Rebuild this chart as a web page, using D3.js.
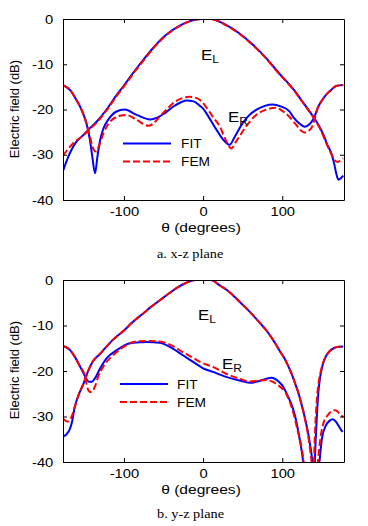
<!DOCTYPE html>
<html>
<head>
<meta charset="utf-8">
<script src="https://cdn.jsdelivr.net/npm/d3@7"></script>
<style>
  html, body { margin: 0; padding: 0; background: #fff; }
  svg { display: block; }
</style>
</head>
<body>
<div id="chart"></div>
<script>
// Angle (degrees) vs electric field (dB)

// a. x-z plane
const topFitEL = [[-177,-33.6],[-172,-31.2],[-168,-29.5],[-160,-27.1],[-151,-25.6],[-145,-24.5],[-134,-22.6],[-122,-20],[-110,-17],[-100,-14.7],[-90,-12.3],[-80,-10],[-70,-7.8],[-60,-5.8],[-50,-4],[-40,-2.6],[-30,-1.5],[-20,-0.7],[-10,-0.15],[0,0],[10,0],[18,-0.4],[29,-1.3],[46,-3.2],[63,-5.7],[80,-8.7],[96,-12],[106,-13.9],[115,-15.7],[124,-17.9],[132,-19.8],[140,-21.8],[147,-23.8],[153,-26],[157,-27.8],[162,-29.7],[166,-32.3],[168,-34],[171,-35.5],[174,-35.2],[177,-34.6]];
const topFemEL = [[-177,-30.2],[-170,-28.6],[-162,-27.1],[-151,-25.7],[-145,-24.6],[-134,-22.8],[-122,-20.2],[-110,-17.2],[-100,-14.9],[-90,-12.5],[-80,-10.2],[-70,-8],[-60,-5.9],[-50,-4.1],[-40,-2.7],[-30,-1.6],[-20,-0.7],[-10,-0.15],[0,0],[10,0],[18,-0.4],[29,-1.4],[46,-3.3],[63,-5.8],[80,-8.8],[96,-12.1],[106,-14],[115,-15.8],[124,-18],[132,-19.9],[140,-21.9],[147,-24],[153,-26.3],[157,-28],[162,-29.8],[166,-31.2],[170,-31.6],[174,-31.2],[177,-30.8]];
const topFitER = [[-177,-14.6],[-168,-15.7],[-160,-17.9],[-153,-20.3],[-147,-23.3],[-143,-26.7],[-140,-30.4],[-136.5,-34.1],[-133.5,-30.4],[-130,-26.7],[-126,-24.2],[-120,-22.3],[-110,-20.5],[-99,-20],[-84,-21.2],[-67,-22.2],[-58,-21.8],[-50,-21],[-38,-19.4],[-28,-18.4],[-21,-18],[-12,-18.2],[-4,-19.2],[0,-19.8],[4,-20.8],[10,-22.5],[17,-24.5],[25,-26.6],[33.5,-27.8],[40,-26],[50,-23],[58,-21.3],[67,-20.1],[78,-19.2],[88,-18.9],[98,-19.3],[109,-20.4],[115,-21.9],[121.7,-23.1],[128,-23.8],[134,-23.3],[138.5,-22.3],[142,-21],[144.7,-19.7],[149,-18.3],[155,-16.8],[161.7,-15.7],[168,-14.8],[177,-14.6]];
const topFemER = [[-177,-14.6],[-168,-15.7],[-160,-17.9],[-153,-20.3],[-147,-23.3],[-143,-26],[-139,-28.6],[-135.5,-29.3],[-131,-27.8],[-126,-25.3],[-118,-22.8],[-105,-21.4],[-97,-21.2],[-84,-22.3],[-69,-23.6],[-60,-22.6],[-55,-21.6],[-45,-19.8],[-38,-18.6],[-28,-17.6],[-17,-17.2],[-8,-17.5],[-2,-18.2],[4,-19.5],[8,-20.5],[14,-22],[21,-23.7],[28,-26.5],[35.6,-28.6],[42,-27],[54,-23.8],[67,-21.2],[80,-20],[92,-19.6],[100,-20.3],[109,-21.6],[117.6,-23.4],[124,-24.7],[128,-25.1],[133.5,-24.7],[138.5,-23.5],[142,-21.4],[144.7,-19.7],[149,-18.3],[155,-16.8],[161.7,-15.7],[168,-14.8],[177,-14.6]];

// b. y-z plane
const botFitEL = [[-177,-34.4],[-172,-33.8],[-169,-33],[-166,-31.5],[-162,-27.8],[-158,-25.6],[-151,-22.7],[-145,-19.9],[-139,-17.8],[-130,-16.2],[-126,-15.4],[-113,-13],[-100,-11.1],[-90,-9.4],[-76,-7.4],[-65,-5.8],[-55,-4.5],[-45,-3.2],[-38,-2.3],[-30,-1.4],[-21,-0.6],[-10,0],[10,0],[21,-1.2],[30,-2.2],[38,-3.4],[48,-5.1],[59,-7],[70,-9.1],[80,-11.1],[90,-13.6],[96.5,-15.5],[102,-17],[107,-18.7],[112,-20.7],[116,-22.6],[120,-24.6],[124,-27.1],[128,-29.9],[132,-33],[135,-36],[138,-40],[140,-45],[142,-36],[144,-29],[146,-24],[148,-21.2],[151,-18.7],[155,-16.8],[160,-15.6],[165,-15],[170,-14.7],[177,-14.6]];
const botFemEL = [[-177,-30.4],[-172,-31.1],[-169,-30.9],[-166,-30],[-162,-27.8],[-158,-25.6],[-151,-22.7],[-145,-19.9],[-139,-17.8],[-130,-16.2],[-126,-15.4],[-113,-13],[-100,-11.1],[-90,-9.4],[-76,-7.4],[-65,-5.8],[-55,-4.5],[-45,-3.2],[-38,-2.3],[-30,-1.4],[-21,-0.6],[-10,0],[10,0],[21,-1.2],[30,-2.2],[38,-3.4],[48,-5.1],[59,-7],[70,-9.1],[80,-11.1],[90,-13.6],[96.5,-15.5],[102,-17],[107,-18.7],[112,-20.7],[116,-22.6],[120,-24.6],[124,-27.1],[128,-29.9],[132,-33.5],[135,-37],[137,-40],[139,-45],[141,-35],[143,-28],[146,-22.5],[148,-20.6],[151,-18.5],[155,-16.8],[160,-15.6],[165,-15],[170,-14.7],[177,-14.6]];
const botFitER = [[-177,-14.5],[-168,-15.4],[-162,-16.9],[-155.5,-19],[-149,-21.2],[-145,-22.3],[-141,-22.4],[-136.6,-21.6],[-130,-19.4],[-122,-17.2],[-109,-15.4],[-92.5,-13.9],[-80,-13.7],[-71.5,-13.6],[-55,-13.8],[-42,-14.7],[-25,-16.6],[-12.7,-18],[0,-19.4],[12.5,-20.2],[29,-21.3],[46,-22.1],[58.7,-22.6],[71,-22.2],[80,-21.7],[86,-21.5],[96,-22.4],[101,-23.4],[107,-25.5],[113,-28],[117,-30.5],[121,-34],[124,-37],[127,-41],[130,-48],[143,-48],[147,-40],[150,-35],[155,-32],[160,-30.9],[164,-30.6],[168,-31.2],[172,-32.3],[176,-33.4]];
const botFemER = [[-177,-14.5],[-168,-15.4],[-162,-16.9],[-155.5,-19],[-149,-21.2],[-147,-23.1],[-143.8,-24.5],[-141,-24.6],[-136.6,-23.4],[-132.5,-21.2],[-126,-19],[-113.5,-16.5],[-96.7,-14.3],[-88,-13.6],[-71.5,-13.4],[-55,-13.5],[-42,-14.2],[-25,-15.9],[-12.7,-17.1],[-4,-18],[0,-18.3],[12.5,-19.1],[29,-20.6],[46,-21.7],[58.7,-22.3],[71,-22.1],[80,-22],[88,-22.4],[96,-23.3],[105,-25],[113,-28.6],[119.6,-33.2],[124,-36.6],[127,-40],[130,-48],[141,-48],[145,-40],[148,-35],[152,-31.5],[158,-29.6],[164,-28.7],[167,-28.6],[172,-29.3],[177,-30.2]];

const xTicks = [-100, 0, 100];
const yTicks = [0, -10, -20, -30, -40];
const seriesNames = ["FIT", "FEM"];

const width = 368, height = 526;
const left = 63, right = 344;
const sans = "'Liberation Sans', Arial, sans-serif";
const serif = "'Liberation Serif', 'Times New Roman', serif";

const svg = d3.select("#chart").append("svg")
    .attr("width", width)
    .attr("height", height);
const defs = svg.append("defs");

// the figure is a bit wider than tall, so horizontal text gets stretched
const stretch = (sel, k) => sel.each(function() {
    const t = d3.select(this);
    const tx = +t.attr("x") || 0, ty = +t.attr("y") || 0;
    t.attr("x", 0).attr("y", 0).attr("transform", `translate(${tx},${ty}) scale(${k},1)`);
});

const panels = [
    { key: "a", top: 19, bottom: 200, fit: [topFitEL, topFitER], fem: [topFemEL, topFemER],
      caption: "a. x-z plane", capX: 157, capY: 258, yLabelY: 109,
      eL: [201, 60], eR: [228, 122], leg: [123, 143.5, 181] },
    { key: "b", top: 280, bottom: 462, fit: [botFitEL, botFitER], fem: [botFemEL, botFemER],
      caption: "b. y-z plane", capX: 157, capY: 518, yLabelY: 370,
      eL: [198, 320], eR: [222, 369], leg: [120, 384, 177] }
];

const drawPanel = (p) => {
    const x = d3.scaleLinear().domain([-177, 178]).range([left, right]);
    const y = d3.scaleLinear().domain([-40, 0]).range([p.bottom, p.top]);
    const g = svg.append("g").attr("class", "panel-" + p.key);

    defs.append("clipPath").attr("id", "clip-" + p.key)
        .append("rect")
        .attr("x", left).attr("y", p.top)
        .attr("width", right - left).attr("height", p.bottom - p.top);

    const line = d3.line()
        .x(d => x(d[0]))
        .y(d => y(d[1]))
        .curve(d3.curveMonotoneX);

    const plot = g.append("g").attr("clip-path", `url(#clip-${p.key})`);
    p.fit.forEach(s => plot.append("path").datum(s)
        .attr("d", line).attr("fill", "none")
        .attr("stroke", "#0000ff").attr("stroke-width", 2));
    p.fem.forEach(s => plot.append("path").datum(s)
        .attr("d", line).attr("fill", "none")
        .attr("stroke", "#ff0000").attr("stroke-width", 2)
        .attr("stroke-dasharray", "7,3"));

    // Axes (frame on four sides, ticks pointing inward)
    const fmt = d => String(d);
    const xAxis = g.append("g").attr("transform", `translate(0,${p.bottom})`)
        .call(d3.axisBottom(x).tickValues(xTicks).tickFormat(fmt)
            .tickSizeInner(-4).tickSizeOuter(0).tickPadding(7));
    const yAxis = g.append("g").attr("transform", `translate(${left},0)`)
        .call(d3.axisLeft(y).tickValues(yTicks).tickFormat(fmt)
            .tickSizeInner(-4).tickSizeOuter(0).tickPadding(9.7));
    g.append("g").attr("transform", `translate(0,${p.top})`)
        .call(d3.axisTop(x).tickValues(xTicks).tickFormat("")
            .tickSizeInner(-4).tickSizeOuter(0));
    g.append("g").attr("transform", `translate(${right},0)`)
        .call(d3.axisRight(y).tickValues(yTicks).tickFormat("")
            .tickSizeInner(-4).tickSizeOuter(0));

    [xAxis, yAxis].forEach(a => a.selectAll("text")
        .attr("font-family", sans).attr("font-size", 12.5));
    stretch(xAxis.selectAll("text"), 1.18);
    stretch(yAxis.selectAll("text"), 1.18);

    // axis titles
    g.append("text")
        .attr("transform", `translate(16,${p.yLabelY}) rotate(-90)`)
        .attr("text-anchor", "middle").attr("dominant-baseline", "middle")
        .attr("font-family", sans).attr("font-size", 13)
        .text("Electric field (dB)");

    g.append("text")
        .attr("x", 201).attr("y", p.bottom + 32.3)
        .attr("text-anchor", "middle")
        .attr("font-family", sans).attr("font-size", 13)
        .text("θ (degrees)")
        .call(s => stretch(s, 1.2));

    g.append("text")
        .attr("x", p.capX).attr("y", p.capY)
        .attr("font-family", serif).attr("font-size", 13)
        .text(p.caption)
        .call(s => stretch(s, 1.1));

    // curve labels
    [[p.eL, "L"], [p.eR, "R"]].forEach(([pos, sub]) => {
        const t = g.append("text")
            .attr("x", pos[0]).attr("y", pos[1])
            .attr("font-family", sans).attr("font-size", 14);
        t.append("tspan").text("E");
        t.append("tspan").attr("font-size", 10).attr("dy", 3).text(sub);
        stretch(t, 1.2);
    });

    // legend
    const [lx, ly, tx] = p.leg;
    const legend = g.append("g").attr("class", "legend");
    seriesNames.forEach((name, i) => {
        const yy = ly + i * 18;
        legend.append("line")
            .attr("x1", lx).attr("x2", lx + 48)
            .attr("y1", yy).attr("y2", yy)
            .attr("stroke", i === 0 ? "#0000ff" : "#ff0000")
            .attr("stroke-width", 2)
            .attr("stroke-dasharray", i === 0 ? null : "7,3");
        legend.append("text")
            .attr("x", tx).attr("y", yy + 4.5)
            .attr("font-family", sans).attr("font-size", 12.5)
            .text(name)
            .call(s => stretch(s, 1.1));
    });
};

panels.forEach(drawPanel);
</script>
</body>
</html>
